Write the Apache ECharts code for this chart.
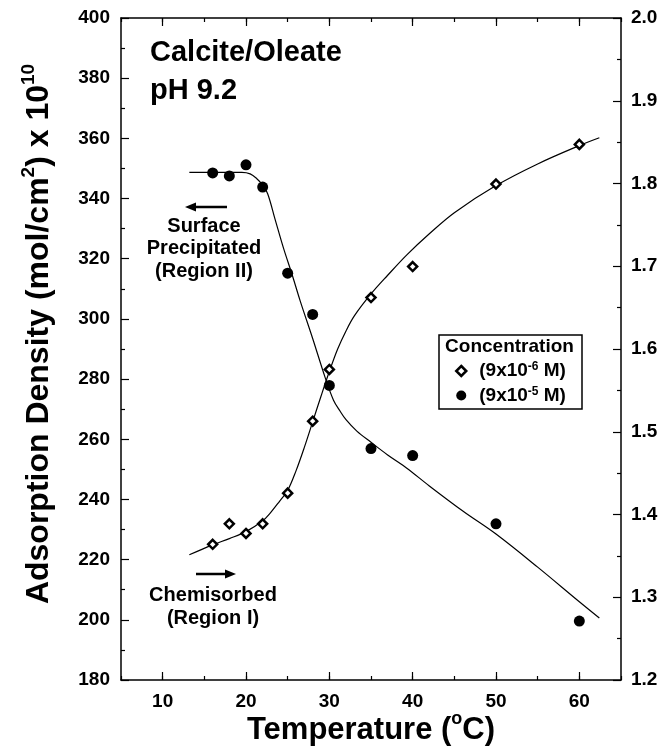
<!DOCTYPE html>
<html><head><meta charset="utf-8">
<script src="https://cdn.jsdelivr.net/npm/echarts@6/dist/echarts.min.js"></script>
<style>html,body{margin:0;padding:0;background:#fff}#c{width:659px;height:756px}</style>
</head><body><div id="c"></div>
<script>
// ---- data ----
const temps = [16, 18, 20, 22, 25, 28, 30, 35, 40, 50, 60];
const lowConc = [225.1, 231.9, 228.7, 231.9, 242.1, 266.0, 283.2, 307.1, 317.4, 344.8, 358.0];   // 9x10^-6 M (open diamonds)
const highConc = [348.5, 347.5, 351.2, 343.8, 315.2, 301.5, 277.9, 256.9, 254.6, 231.9, 199.6]; // 9x10^-5 M (filled circles)

// hand-drawn fit curves
const fitLowX = [13.2, 16, 18, 20, 22, 23, 24, 25, 26, 27, 28, 29, 30, 31, 32, 33, 35, 37, 39.3, 42, 45, 50, 55, 60, 62.4];
const fitLowY = [221.6, 224.9, 227, 229.3, 232.9, 235.8, 239.3, 243, 249.5, 257.3, 265.8, 274.3, 282.5, 290, 296, 301, 308.3, 314.5, 321.3, 328.3, 335.3, 344.3, 351.5, 357.6, 360.2];
const fitHighX = [13.2, 16, 19.5, 20.5, 21.3, 22, 22.6, 23.5, 24.5, 25.5, 26.5, 28, 29.5, 30.5, 31.3, 32, 33.3, 35, 37, 39.3, 42, 46.1, 50, 55, 60, 62.4];
const fitHighY = [348.7, 348.7, 348.7, 348.2, 346.6, 344.5, 341.6, 333, 323.5, 315, 306, 293.5, 280.5, 273, 269.3, 266.5, 262.7, 259, 254.8, 250.4, 244.5, 236, 228.5, 217.5, 206, 200.6];

const xTicks = [10, 20, 30, 40, 50, 60];
const leftTicks = [180, 200, 220, 240, 260, 280, 300, 320, 340, 360, 380, 400];
const rightTicks = [1.2, 1.3, 1.4, 1.5, 1.6, 1.7, 1.8, 1.9, 2.0];
const xRange = [5, 65];

const FF = '"Liberation Sans", Arial, sans-serif';
const BLACK = '#000';
const lbl = {color: BLACK, fontFamily: FF, fontWeight: 'bold', fontSize: 19};

const chart = echarts.init(document.getElementById('c'), null, {renderer: 'canvas'});

const xMinorAxis = (pos) => ({
  type: 'value', position: pos, min: xRange[0], max: xRange[1], interval: 5,
  axisLine: {show: true, onZero: false, lineStyle: {color: BLACK, width: 1.5}},
  axisTick: {show: true, inside: true, length: 4, lineStyle: {color: BLACK, width: 1.2}},
  axisLabel: {show: false}, splitLine: {show: false}
});
const xMajorAxis = (pos, showLabel) => ({
  type: 'value', position: pos, min: xRange[0], max: xRange[1],
  axisLine: {show: false},
  axisTick: {show: true, inside: true, length: 8, customValues: xTicks, lineStyle: {color: BLACK, width: 1.2}},
  axisLabel: Object.assign({show: showLabel, customValues: xTicks, margin: 12}, lbl),
  splitLine: {show: false}
});

const supTok = (size, lh) => ({fontSize: size, fontWeight: 'bold', fontFamily: FF, color: BLACK, fill: BLACK, verticalAlign: 'top', lineHeight: lh});
const legTok = {fontSize: 19, fontWeight: 'bold', fontFamily: FF, color: BLACK, lineHeight: 20};

const option = {
  animation: false,
  backgroundColor: '#fff',
  grid: {left: 121, right: 38, top: 18, bottom: 76, containLabel: false, outerBoundsMode: 'none'},
  xAxis: [xMinorAxis('bottom'), xMajorAxis('bottom', true), xMinorAxis('top'), xMajorAxis('top', false)],
  yAxis: [
    {
      type: 'value', position: 'left', min: leftTicks[0], max: leftTicks[leftTicks.length - 1], interval: 20,
      axisLine: {show: true, onZero: false, lineStyle: {color: BLACK, width: 1.5}},
      axisTick: {show: true, inside: true, length: 8, lineStyle: {color: BLACK, width: 1.2}},
      minorTick: {show: true, splitNumber: 2, length: 4, lineStyle: {color: BLACK, width: 1.2}},
      axisLabel: Object.assign({margin: 11}, lbl),
      splitLine: {show: false}
    },
    {
      type: 'value', position: 'right', min: rightTicks[0], max: rightTicks[rightTicks.length - 1], interval: 0.1,
      axisLine: {show: true, onZero: false, lineStyle: {color: BLACK, width: 1.5}},
      axisTick: {show: true, inside: true, length: 8, lineStyle: {color: BLACK, width: 1.2}},
      minorTick: {show: true, splitNumber: 2, length: 4, lineStyle: {color: BLACK, width: 1.2}},
      axisLabel: Object.assign({margin: 10, formatter: v => (+v).toFixed(1)}, lbl),
      splitLine: {show: false}
    }
  ],
  legend: {
    orient: 'vertical', left: 455, top: 361, padding: 0, itemGap: 5,
    itemWidth: 10, itemHeight: 10, selectedMode: false, symbolKeepAspect: true,
    data: [
      {name: 'c6', icon: 'diamond', itemStyle: {color: '#fff', borderColor: BLACK, borderWidth: 2.5}},
      {name: 'c5', icon: 'circle', itemStyle: {color: BLACK, borderWidth: 0}}
    ],
    formatter: n => n === 'c6' ? '{f|(9x10}{s|-6}{n| M)}' : '{f|(9x10}{s|-5}{n| M)}',
    textStyle: {
      color: BLACK, fontFamily: FF, fontWeight: 'bold', fontSize: 19,
      rich: {
        f: Object.assign({padding: [0, 0, 0, 8]}, legTok),
        n: legTok,
        s: supTok(12, 6.6)
      }
    }
  },
  series: [
    {type: 'line', name: 'fitLow', xAxisIndex: 0, yAxisIndex: 0, data: fitLowX.map((x, i) => [x, fitLowY[i]]),
     showSymbol: false, smooth: 0.35, lineStyle: {color: BLACK, width: 1.2}, silent: true, z: 1},
    {type: 'line', name: 'fitHigh', xAxisIndex: 0, yAxisIndex: 0, data: fitHighX.map((x, i) => [x, fitHighY[i]]),
     showSymbol: false, smooth: 0.35, lineStyle: {color: BLACK, width: 1.2}, silent: true, z: 1},
    {type: 'scatter', name: 'c6', xAxisIndex: 0, yAxisIndex: 0, data: temps.map((t, i) => [t, lowConc[i]]),
     symbol: 'diamond', symbolSize: 9, itemStyle: {color: '#fff', borderColor: BLACK, borderWidth: 2.5, opacity: 1}, z: 3},
    {type: 'scatter', name: 'c5', xAxisIndex: 0, yAxisIndex: 0, data: temps.map((t, i) => [t, highConc[i]]),
     symbol: 'circle', symbolSize: 11, itemStyle: {color: BLACK, opacity: 1}, z: 3}
  ],
  graphic: [
    {type: 'text', x: 150, y: 52.5, style: {text: 'Calcite/Oleate', fill: BLACK, fontSize: 29, fontWeight: 'bold', fontFamily: FF, align: 'left', verticalAlign: 'middle'}},
    {type: 'text', x: 150, y: 90.5, style: {text: 'pH 9.2', fill: BLACK, fontSize: 29, fontWeight: 'bold', fontFamily: FF, align: 'left', verticalAlign: 'middle'}},
    {type: 'text', x: 204, y: 248.6, style: {text: 'Surface\nPrecipitated\n(Region II)', fill: BLACK, fontSize: 20, fontWeight: 'bold', fontFamily: FF, lineHeight: 22.5, align: 'center', verticalAlign: 'middle'}},
    {type: 'text', x: 213, y: 606.6, style: {text: 'Chemisorbed\n(Region I)', fill: BLACK, fontSize: 20, fontWeight: 'bold', fontFamily: FF, lineHeight: 23, align: 'center', verticalAlign: 'middle'}},
    {type: 'line', shape: {x1: 192, y1: 207, x2: 227, y2: 207}, style: {stroke: BLACK, lineWidth: 2.5}},
    {type: 'polygon', shape: {points: [[185, 207], [196, 202.5], [196, 211.5]]}, style: {fill: BLACK}},
    {type: 'line', shape: {x1: 196, y1: 574, x2: 229, y2: 574}, style: {stroke: BLACK, lineWidth: 2.5}},
    {type: 'polygon', shape: {points: [[236, 574], [225, 569.5], [225, 578.5]]}, style: {fill: BLACK}},
    {type: 'rect', shape: {x: 439, y: 335, width: 143, height: 74}, style: {fill: 'none', stroke: BLACK, lineWidth: 1.5}},
    {type: 'text', x: 509.5, y: 346.4, style: {text: 'Concentration', fill: BLACK, fontSize: 19, fontWeight: 'bold', fontFamily: FF, align: 'center', verticalAlign: 'middle'}},
    {type: 'text', x: 39.5, y: 334, rotation: Math.PI / 2,
     style: {text: '{m|Adsorption Density (mol/cm}{s|2}{m|) x 10}{s|10}', fill: BLACK, align: 'center', verticalAlign: 'middle',
       fontSize: 32, fontWeight: 'bold', fontFamily: FF,
       rich: {m: {fontSize: 32, fontWeight: 'bold', fontFamily: FF, fill: BLACK, lineHeight: 40}, s: supTok(19, 4.8)}}},
    {type: 'text', x: 371, y: 730.3,
     style: {text: '{m|Temperature (}{s|o}{m|C)}', fill: BLACK, align: 'center', verticalAlign: 'middle',
       fontSize: 31, fontWeight: 'bold', fontFamily: FF,
       rich: {m: {fontSize: 31, fontWeight: 'bold', fontFamily: FF, fill: BLACK, lineHeight: 40}, s: supTok(18, 13.6)}}}
  ]
};
chart.setOption(option);
</script>
</body></html>
